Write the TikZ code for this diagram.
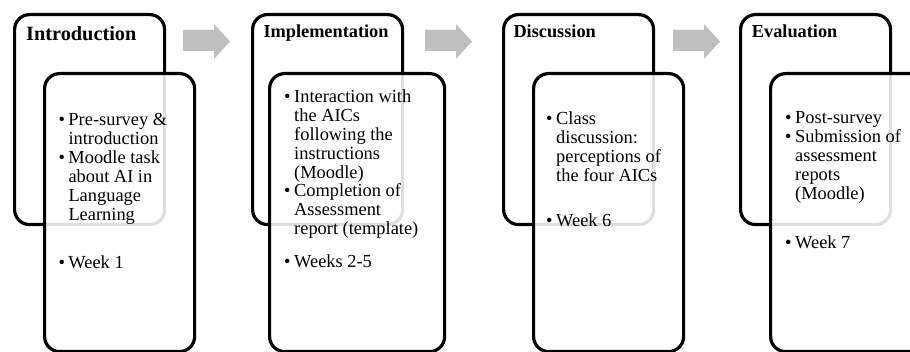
\documentclass[tikz,border=0pt]{standalone}
\usepackage{fontspec}
\setmainfont{Liberation Serif}
\definecolor{arrowgray}{RGB}{191,191,191}
\newcommand\bitem{\makebox[10pt][l]{\textbullet}}
\newcommand\bcont{\hspace*{10pt}}
\tikzset{
  phasebox/.style={draw=black, line width=3.2pt, rounded corners=15pt, fill=white, anchor=north west, inner sep=0pt, minimum width=150pt, minimum height=210pt},
  detailbox/.style={draw=black, line width=3.2pt, rounded corners=15pt, fill=white, fill opacity=0.87, draw opacity=1, anchor=north west, inner sep=0pt, minimum width=150pt, minimum height=278pt},
  headbig/.style={font=\bfseries\fontsize{20.3}{22}\selectfont, anchor=base west, inner sep=0pt},
  head/.style={font=\bfseries\fontsize{18.3}{20}\selectfont, anchor=base west, inner sep=0pt},
  body/.style={font=\fontsize{18.4}{18.9}\selectfont, anchor=base west, inner sep=0pt, text opacity=1},
  blockarrow/.style={fill=arrowgray, draw=none}
}
\newcommand\arrowat[1]{%
  \fill[blockarrow] (#1,30) -- (#1+31,30) -- (#1+31,24) -- (#1+47,41.5) -- (#1+31,59) -- (#1+31,51) -- (#1,51) -- cycle;}
\begin{document}
\begin{tikzpicture}[x=1pt,y=-1pt]
\useasboundingbox (0,0) rectangle (910,352);
\clip (0,0) rectangle (910,352);

% arrows
\arrowat{183}
\arrowat{425}
\arrowat{673}

% phase 1
\node[phasebox] (o1) at (13,13) {};
\node[detailbox] (i1) at (43,72) {};
\node[headbig] (h1) at (26,40.7) {Introduction};
\node[body] (t1) at (58.3,126) {\begin{tabular}[t]{@{}l@{}}
\bitem Pre-survey \&\\
\bcont introduction\\
\bitem Moodle task\\
\bcont about AI in\\
\bcont Language\\
\bcont Learning
\end{tabular}};
\node[body] (w1) at (58.3,269) {\bitem Week 1};

% phase 2
\node[phasebox] (o2) at (251,13) {};
\node[detailbox, minimum width=175pt] (i2) at (268,72) {};
\node[head] (h2) at (263.3,37.3) {Implementation};
\node[body] (t2) at (284,102.5) {\begin{tabular}[t]{@{}l@{}}
\bitem Interaction with\\
\bcont the AICs\\
\bcont following the\\
\bcont instructions\\
\bcont (Moodle)\\
\bitem Completion of\\
\bcont Assessment\\
\bcont report (template)
\end{tabular}};
\node[body] (w2) at (284,268) {\bitem Weeks 2-5};

% phase 3
\node[phasebox] (o3) at (502,13) {};
\node[detailbox] (i3) at (532,72) {};
\node[head] (h3) at (513.3,37.3) {Discussion};
\node[body] (t3) at (546,125) {\begin{tabular}[t]{@{}l@{}}
\bitem Class\\
\bcont discussion:\\
\bcont perceptions of\\
\bcont the four AICs
\end{tabular}};
\node[body] (w3) at (546,226.7) {\bitem Week 6};

% phase 4
\node[phasebox] (o4) at (739,13) {};
\node[detailbox, minimum width=165pt] (i4) at (769,72) {};
\node[head] (h4) at (751.7,37.3) {Evaluation};
\node[body] (t4) at (785,123.5) {\begin{tabular}[t]{@{}l@{}}
\bitem Post-survey\\
\bitem Submission of\\
\bcont assessment\\
\bcont repots\\
\bcont (Moodle)
\end{tabular}};
\node[body] (w4) at (785,248.3) {\bitem Week 7};
\end{tikzpicture}
\end{document}
